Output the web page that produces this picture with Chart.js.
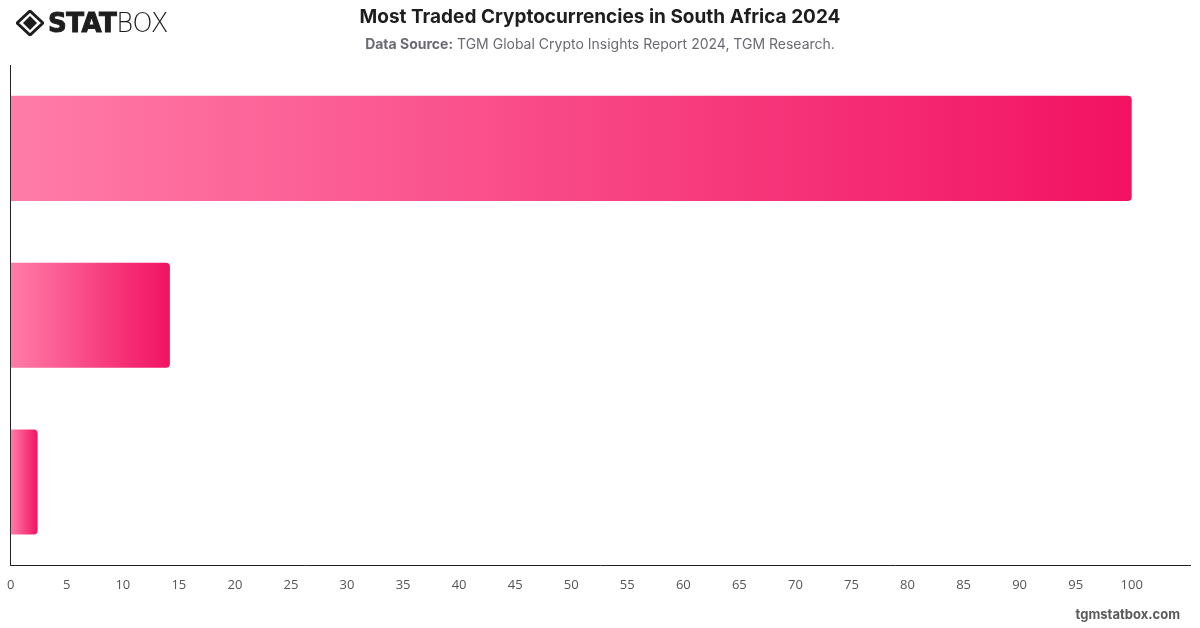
<!DOCTYPE html>
<html>
<head>
<meta charset="utf-8">
<script src="https://cdn.jsdelivr.net/npm/chart.js@4.4.1/dist/chart.umd.min.js"></script>
<style>
  html, body { margin: 0; padding: 0; background: #fff; }
  body { width: 1200px; height: 628px; position: relative; overflow: hidden; font-family: Inter, "Open Sans", Roboto, sans-serif; }
  #wrap { position: absolute; left: -5px; top: 0; width: 1205px; height: 628px; }
  .logo { position: absolute; left: 16px; top: 8px; display: flex; align-items: center; }
  .logo span.b { font-family: "DejaVu Sans", sans-serif; font-weight: 900; font-size: 26px; letter-spacing: -0.5px; color: #1e1e1e; margin-left: 4px; -webkit-text-stroke: 1px #1e1e1e; }
  .logo span.l { font-family: "DejaVu Sans", sans-serif; font-weight: 300; font-size: 26px; color: #1e1e1e; letter-spacing: -0.5px; }
  .title { position: absolute; left: 0; width: 1200px; top: 5px; text-align: center; font-size: 19px; font-weight: 700; color: #1e1e1e; }
  .sub { position: absolute; left: 0; width: 1200px; top: 35px; text-align: center; font-size: 14px; color: #6a6a72; }
  .sub b { font-weight: 700; }
  .wm { position: absolute; right: 20px; top: 606px; font-size: 13px; font-weight: 700; color: #5a5a5a; }
</style>
</head>
<body>
<div id="wrap"><canvas id="c" width="1205" height="628"></canvas></div>
<div class="logo">
  <svg width="28" height="26" viewBox="0 0 28 26">
    <path d="M14 1 L27 13 L14 25 L1 13 Z" fill="none" stroke="#1e1e1e" stroke-width="3"/>
    <path d="M14 6 L21 13 L14 20 L7 13 Z" fill="#1e1e1e"/>
  </svg>
  <span class="b">STAT</span><span class="l">BOX</span>
</div>
<div class="title">Most Traded Cryptocurrencies in South Africa 2024</div>
<div class="sub"><b>Data Source:</b> TGM Global Crypto Insights Report 2024, TGM Research.</div>
<div class="wm">tgmstatbox.com</div>
<script>
// Данные графика
const categories = ['', '', ''];
const shares = [100, 14.2, 2.4];
const xTicks = [0, 5, 10, 15, 20, 25, 30, 35, 40, 45, 50, 55, 60, 65, 70, 75, 80, 85, 90, 95, 100];

// Градиент для каждого столбца отдельно — от начала к концу столбца
function barGradient(context) {
  const chart = context.chart;
  const { ctx, chartArea, scales } = chart;
  if (!chartArea || context.parsed == null) return '#f5196a';
  const x0 = scales.x.getPixelForValue(0);
  const x1 = scales.x.getPixelForValue(context.parsed.x);
  if (x1 - x0 < 1) return '#f5196a';
  const g = ctx.createLinearGradient(x0, 0, x1, 0);
  g.addColorStop(0, 'rgba(255, 124, 168, 1)');
  g.addColorStop(1, 'rgba(242, 18, 98, 1)');
  return g;
}

new Chart(document.getElementById('c').getContext('2d'), {
  type: 'bar',
  data: {
    labels: categories,
    datasets: [{
      data: shares,
      backgroundColor: barGradient,
      borderRadius: 4,
      borderSkipped: 'start',
      categoryPercentage: 0.63,
      barPercentage: 1
    }]
  },
  options: {
    indexAxis: 'y',
    responsive: false,
    animation: false,
    plugins: { legend: { display: false }, tooltip: { enabled: false } },
    layout: { padding: { left: 1, right: 10, top: 65, bottom: 23 } },
    scales: {
      x: {
        min: 0,
        max: 105.2,
        afterBuildTicks: (axis) => { axis.ticks = xTicks.map(v => ({ value: v })); },
        grid: { display: false, drawTicks: false },
        border: { display: true, color: '#222', width: 1 },
        ticks: { color: '#555', font: { size: 13, family: '"Open Sans", Inter, sans-serif' }, padding: 12, maxRotation: 0, autoSkip: false }
      },
      y: {
        grid: { display: false, drawTicks: false },
        border: { display: true, color: '#222', width: 1 },
        ticks: { display: false },
        afterFit: (axis) => { axis.width = 0; }
      }
    }
  }
});
</script>
</body>
</html>
